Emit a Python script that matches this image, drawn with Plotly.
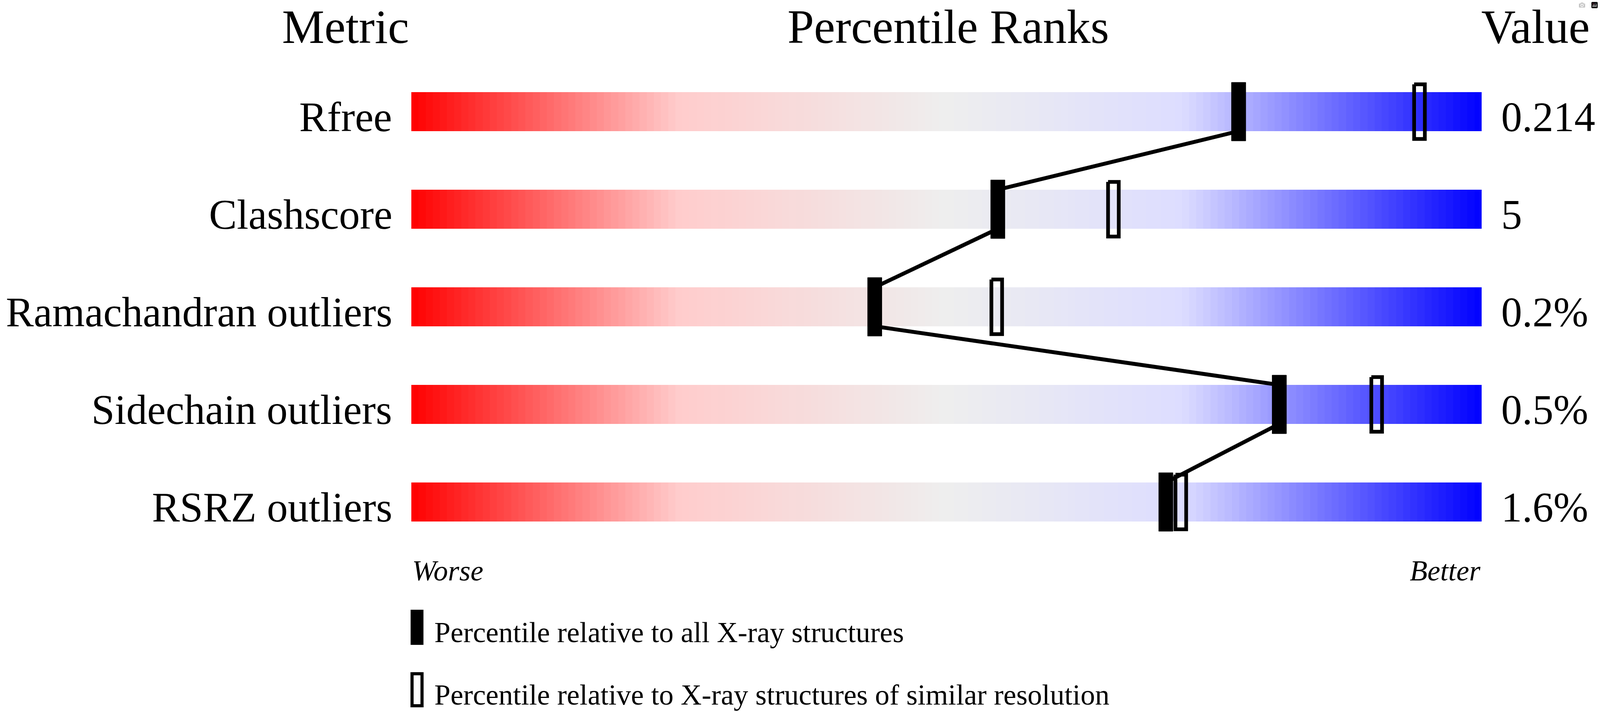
import plotly.graph_objects as go

metrics = ["Rfree", "Clashscore", "Ramachandran outliers",
           "Sidechain outliers", "RSRZ outliers"]
values = ["0.214", "5", "0.2%", "0.5%", "1.6%"]
pct_all = [77.3, 54.8, 43.3, 81.1, 70.5]       # vs all X-ray structures
pct_similar = [94.2, 65.6, 54.7, 90.2, 71.9]   # vs similar resolution
legend_labels = ["Percentile relative to all X-ray structures",
                 "Percentile relative to X-ray structures of similar resolution"]

# the browser viewport is 4096 px wide, so the 4485 px wide layout is
# squeezed horizontally; heights are kept
W, H = 4096, 1824
SX = W / 4485.0
BAR_X0, BAR_X1 = 1153 * SX, 4153 * SX   # pixel span of percentile 0..100
ROW0, ROW_STEP = 286, 250               # pixel centre of first row, pitch
PX_PCT = (BAR_X1 - BAR_X0) / 100.0
FONT = "Liberation Serif"


def px_x(px):
    return px / PX_PCT


def px_y(px):
    return px / ROW_STEP


def paper_x(ref_px):
    return ref_px * SX / W


def paper_y(px):
    return 1 - px / H


# baseline -> middle of the text box for Liberation Serif
def mid_from_base(fs):
    return 0.3375 * fs


n = len(metrics)
bar_half = px_y(50)

# gradient bars as one heatmap, gap rows left empty
ncol = 150
x_edges = [100.0 * k / ncol for k in range(ncol + 1)]
x_cent = [(x_edges[k] + x_edges[k + 1]) / 2 for k in range(ncol)]
y_edges = []
z = []
for i in range(n):
    y_edges += [i - bar_half, i + bar_half]
    z.append(x_cent)
    if i < n - 1:
        z.append([None] * ncol)

fig = go.Figure()
fig.add_trace(go.Heatmap(
    x=x_edges, y=y_edges, z=z, zmin=0, zmax=100, showscale=False,
    hoverinfo="skip",
    colorscale=[[0, "#ff0000"], [0.25, "#ffcccc"], [0.5, "#eeeeee"],
                [0.72, "#ddddff"], [1, "#0000ff"]]))

# open markers (similar resolution)
ow, oh = px_x(15 * SX), px_y(70)
ox, oy = [], []
for i, p in enumerate(pct_similar):
    ox += [p - ow, p + ow, p + ow, p - ow, p - ow, None]
    oy += [i - oh, i - oh, i + oh, i + oh, i - oh, None]
fig.add_trace(go.Scatter(x=ox, y=oy, mode="lines", hoverinfo="skip",
                         line=dict(color="black", width=9.5)))

# connecting line between the filled markers
lx, ly = [], []
for i, p in enumerate(pct_all):
    if i > 0:
        lx.append(p)
        ly.append(i - bar_half)
    if i < n - 1:
        lx.append(p)
        ly.append(i + bar_half)
fig.add_trace(go.Scatter(x=lx, y=ly, mode="lines", hoverinfo="skip",
                         line=dict(color="black", width=10)))

# filled markers (all X-ray structures)
bw, bh = px_x(20 * SX), px_y(75)
for i, p in enumerate(pct_all):
    fig.add_trace(go.Scatter(
        x=[p - bw, p + bw, p + bw, p - bw, p - bw],
        y=[i - bh, i - bh, i + bh, i + bh, i - bh],
        mode="lines", fill="toself", fillcolor="black", hoverinfo="skip",
        line=dict(color="black", width=1)))

ann = []
# column headers (kept just inside the top edge)
hs = 122
for txt, xp, xa in [("Metric", 969, "center"),
                    ("Percentile Ranks", 2658, "center"),
                    ("Value", 4150, "left")]:
    ann.append(dict(text=txt, xref="paper", yref="paper", x=paper_x(xp),
                    y=paper_y(110 - mid_from_base(hs)), xanchor=xa,
                    yanchor="middle", showarrow=False,
                    font=dict(family=FONT, size=hs, color="black")))

# row labels and values, baseline on the bar bottom
fs = 107
for i in range(n):
    yb = i + bar_half - px_y(mid_from_base(fs))
    ann.append(dict(text=metrics[i], x=px_x((1102 - 1153) * SX), y=yb,
                    xref="x", yref="y", xanchor="right", yanchor="middle",
                    showarrow=False,
                    font=dict(family=FONT, size=fs, color="black")))
    ann.append(dict(text=values[i], x=px_x((4206 - 1153) * SX), y=yb,
                    xref="x", yref="y", xanchor="left", yanchor="middle",
                    showarrow=False,
                    font=dict(family=FONT, size=fs, color="black")))

# Worse / Better
ss = 74
for txt, xv, xa in [("Worse", 0, "left"), ("Better", 100, "right")]:
    ann.append(dict(text=txt, x=xv, xref="x", yref="paper",
                    y=paper_y(1487 - mid_from_base(ss)), xanchor=xa,
                    yanchor="middle", showarrow=False,
                    font=dict(family=FONT, size=ss, color="black",
                              style="italic")))

# legend
shapes = []
leg_tops = [1562, 1722]
for k, top in enumerate(leg_tops):
    if k == 0:
        shapes.append(dict(type="rect", xref="paper", yref="paper",
                           x0=paper_x(1151), x1=paper_x(1187),
                           y0=paper_y(top), y1=paper_y(top + 90),
                           fillcolor="black", line=dict(width=0)))
    else:
        shapes.append(dict(type="rect", xref="paper", yref="paper",
                           x0=paper_x(1155), x1=paper_x(1183),
                           y0=paper_y(top + 4), y1=paper_y(top + 86),
                           fillcolor="rgba(0,0,0,0)",
                           line=dict(color="black", width=8)))
    ann.append(dict(text=legend_labels[k], xref="paper", yref="paper",
                    x=paper_x(1215), y=paper_y(top + 83 - mid_from_base(ss)),
                    xanchor="left", yanchor="middle", showarrow=False,
                    font=dict(family=FONT, size=ss, color="black")))

fig.update_layout(
    width=W, height=H, margin=dict(l=0, r=0, t=0, b=0),
    paper_bgcolor="white", plot_bgcolor="white", showlegend=False,
    xaxis=dict(visible=False, range=[px_x(-BAR_X0), px_x(W - BAR_X0)],
               fixedrange=True),
    yaxis=dict(visible=False, range=[px_y(H - ROW0), px_y(-ROW0)],
               fixedrange=True),
    annotations=ann, shapes=shapes)

# drop the default page margin so the figure sits at the window corner
fig.write_html("out.html", post_script="document.body.style.margin = '0';")
